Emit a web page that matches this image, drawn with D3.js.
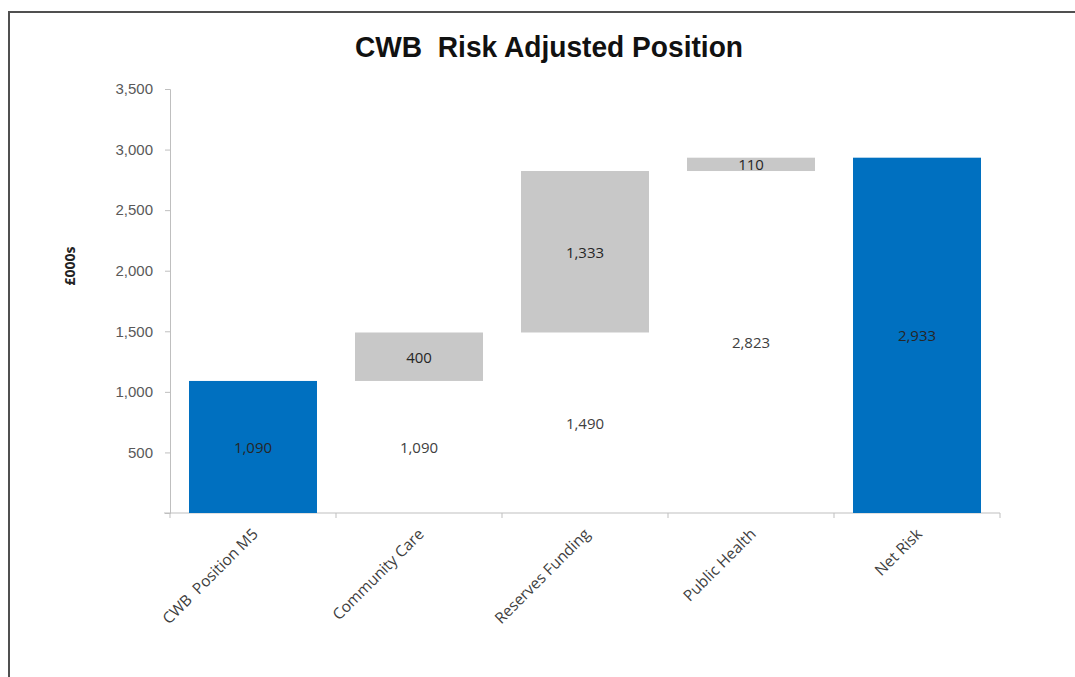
<!DOCTYPE html>
<html>
<head>
<meta charset="utf-8">
<script src="https://cdn.jsdelivr.net/npm/d3@7"></script>
<style>
  body { margin: 0; background: #fff; }
  svg { display: block; font-family: "Open Sans", "Liberation Sans", sans-serif; }
  text { white-space: pre; }
</style>
</head>
<body>
<svg id="chart" width="1075" height="677"></svg>
<script>
// Waterfall data
const categories = ["CWB  Position M5", "Community Care", "Reserves Funding", "Public Health", "Net Risk"];
const baseValues = [0, 1090, 1490, 2823, 0];      // invisible base of each bar
const stepValues = [1090, 400, 1333, 110, 2933];  // visible part
const isTotal = [true, false, false, false, true];
const yTicks = [500, 1000, 1500, 2000, 2500, 3000, 3500];

const svg = d3.select("#chart");

// frame (top and left edge only visible)
svg.append("rect")
  .attr("x", 9).attr("y", 12)
  .attr("width", 1100).attr("height", 700)
  .attr("fill", "none")
  .attr("stroke", "#505050")
  .attr("stroke-width", 2);

// Title
svg.append("text")
  .attr("x", 549).attr("y", 57)
  .attr("text-anchor", "middle")
  .attr("font-family", "Liberation Sans, Arial, sans-serif")
  .attr("font-weight", "bold")
  .attr("font-size", 29)
  .attr("textLength", 388)
  .attr("lengthAdjust", "spacingAndGlyphs")
  .attr("fill", "#111")
  .text("CWB  Risk Adjusted Position");

const plotLeft = 170, plotRight = 1000, plotTop = 89, plotBottom = 513;

const x = d3.scaleBand()
  .domain(categories)
  .range([plotLeft, plotRight])
  .paddingInner(0.229)
  .paddingOuter(0.1145);

const y = d3.scaleLinear()
  .domain([0, 3500])
  .range([plotBottom, plotTop]);

// Y axis
const yAxis = svg.append("g")
  .attr("transform", `translate(${plotLeft},0)`)
  .call(d3.axisLeft(y).tickValues([0].concat(yTicks)).tickSize(5).tickPadding(12)
    .tickFormat(d => d === 0 ? "" : d3.format(",")(d)));
yAxis.select(".domain").attr("stroke", "#bfbfbf");
yAxis.selectAll(".tick line").attr("stroke", "#bfbfbf");
yAxis.selectAll("text")
  .attr("font-size", 15)
  .attr("fill", "#595959");

// Y label
svg.append("text")
  .attr("transform", "translate(75,266) rotate(-90)")
  .attr("text-anchor", "middle")
  .attr("font-weight", "bold")
  .attr("font-size", 14)
  .attr("fill", "#222")
  .text("£000s");

// X axis line and boundary ticks
svg.append("line")
  .attr("x1", plotLeft - 6).attr("x2", plotRight)
  .attr("y1", plotBottom).attr("y2", plotBottom)
  .attr("stroke", "#bfbfbf");
svg.selectAll(".xtick")
  .data(d3.range(categories.length + 1))
  .enter()
  .append("line")
  .attr("x1", i => plotLeft + i * x.step())
  .attr("x2", i => plotLeft + i * x.step())
  .attr("y1", plotBottom).attr("y2", plotBottom + 5)
  .attr("stroke", "#bfbfbf");

// Category labels
svg.selectAll(".xlabel")
  .data(categories)
  .enter()
  .append("text")
  .attr("transform", d => `translate(${x(d) + x.bandwidth() / 2 + 6},${plotBottom + 22}) rotate(-45)`)
  .attr("text-anchor", "end")
  .attr("font-size", 15.5)
  .attr("fill", "#404040")
  .text(d => d);

// Visible bars
svg.selectAll(".bar")
  .data(categories)
  .enter()
  .append("rect")
  .attr("x", d => x(d))
  .attr("width", x.bandwidth())
  .attr("y", (d, i) => y(baseValues[i] + stepValues[i]))
  .attr("height", (d, i) => y(baseValues[i]) - y(baseValues[i] + stepValues[i]))
  .attr("fill", (d, i) => isTotal[i] ? "#0070c0" : "#c8c8c8");

const fmt = d3.format(",");

// labels of the invisible base bars
svg.selectAll(".baselabel")
  .data(categories.filter((d, i) => baseValues[i] > 0))
  .enter()
  .append("text")
  .attr("x", d => x(d) + x.bandwidth() / 2)
  .attr("y", d => y(baseValues[categories.indexOf(d)] / 2) + 6)
  .attr("text-anchor", "middle")
  .attr("font-size", 15)
  .attr("fill", "#404040")
  .text(d => fmt(baseValues[categories.indexOf(d)]));

// labels of the visible bars
svg.selectAll(".steplabel")
  .data(categories)
  .enter()
  .append("text")
  .attr("x", d => x(d) + x.bandwidth() / 2)
  .attr("y", (d, i) => y(baseValues[i] + stepValues[i] / 2) + 6)
  .attr("text-anchor", "middle")
  .attr("font-size", 15)
  .attr("fill", "#262626")
  .text((d, i) => fmt(stepValues[i]));
</script>
</body>
</html>
